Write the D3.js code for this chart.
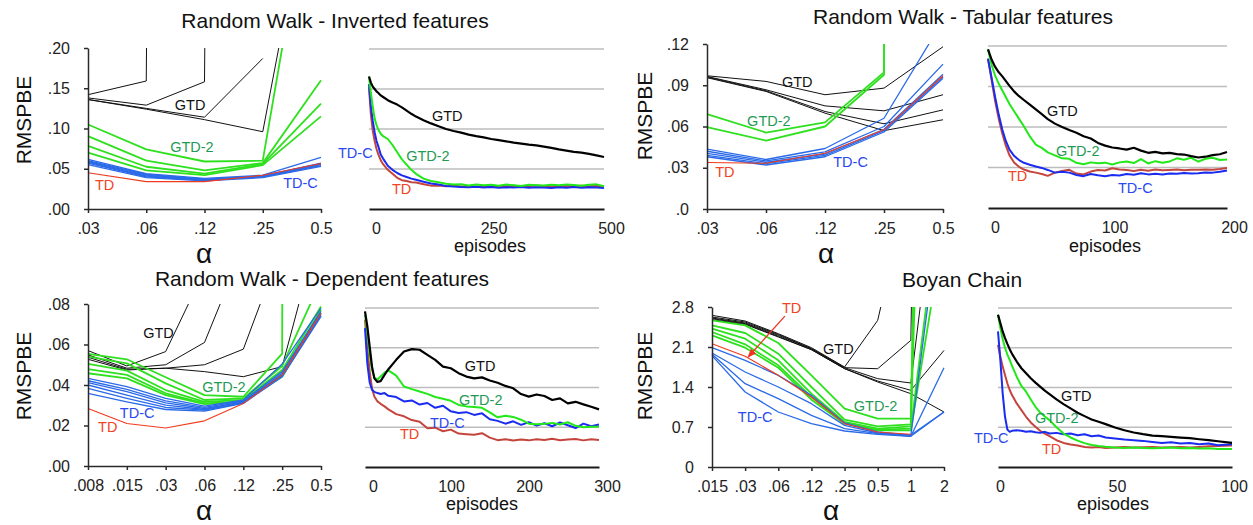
<!DOCTYPE html>
<html>
<head>
<meta charset="utf-8">
<script src="https://cdn.jsdelivr.net/npm/d3@7"></script>
<style>
  body { margin: 0; background: #fff; }
  svg { font-family: "Liberation Sans", Arial, sans-serif; }
  .axis path, .axis line { stroke: #2a2a2a; stroke-width: 1.5; }
  .axis text { font-size: 16px; fill: #222; }
  .epaxis path { stroke: #1a1a1a; stroke-width: 2; }
  .epaxis text { font-size: 16px; fill: #222; }
  .grid { stroke: #bdbdbd; stroke-width: 1.5; }
  .lbl { font-size: 14.5px; }
</style>
</head>
<body>
<svg id="chart"></svg>
<script>
// ---------- Random Walk - Inverted features ----------
const invAlpha = ['.03', '.06', '.12', '.25', '0.5'];
const invTicks = ['.00', '.05', '.10', '.15', '.20'];
const invGTD = [
  [0.142, 0.159, 9, null, null],
  [0.138, 0.129, 0.158, 9, null],
  [0.136, 0.125, 0.114, 0.187, null],
  [0.136, 0.124, 0.111, 0.096, 0.475]
];
const invGTD2 = [
  [0.105, 0.074, 0.059, 0.060, 0.48],
  [0.0905, 0.060, 0.048, 0.057, 0.160],
  [0.0785, 0.0525, 0.044, 0.056, 0.131],
  [0.070, 0.048, 0.042, 0.0545, 0.115]
];
const invTDC = [
  [0.0615, 0.044, 0.038, 0.042, 0.064],
  [0.060, 0.043, 0.037, 0.041, 0.057],
  [0.059, 0.042, 0.0365, 0.041, 0.056],
  [0.058, 0.041, 0.036, 0.040, 0.055],
  [0.057, 0.040, 0.0355, 0.040, 0.054],
  [0.055, 0.039, 0.035, 0.039, 0.053]
];
const invTD = [[0.045, 0.034, 0.034, 0.042, 0.0566]];

const invEpisodes = [0, 4, 8, 12, 16, 20, 25, 30, 40, 50, 60, 70, 80, 90, 100, 116, 132, 148, 164, 180,
  196, 212, 228, 244, 260, 276, 292, 308, 324, 340, 356, 372, 388, 404, 420, 436, 452, 468, 484, 500];
const invEpTicks = [0, 250, 500];
const invEpGTD = [0.1656, 0.158, 0.153, 0.150, 0.147, 0.145, 0.142, 0.140, 0.136, 0.133, 0.1305, 0.127, 0.123, 0.119, 0.1155,
  0.111, 0.107, 0.1035, 0.100, 0.0975, 0.0955, 0.093, 0.091, 0.0895, 0.0875, 0.086, 0.0845, 0.083, 0.0818, 0.0805,
  0.0795, 0.078, 0.0765, 0.0745, 0.073, 0.0715, 0.0705, 0.069, 0.067, 0.065];
const invEpGTD2 = [0.1656, 0.145, 0.128, 0.113, 0.105, 0.099, 0.094, 0.091, 0.0875, 0.080, 0.071, 0.062, 0.0555, 0.049, 0.044,
  0.038, 0.035, 0.0335, 0.0315, 0.0305, 0.031, 0.0295, 0.0305, 0.0298, 0.0302, 0.0292, 0.0305, 0.0296, 0.0288, 0.0302,
  0.0298, 0.0295, 0.0303, 0.0296, 0.0305, 0.0299, 0.0291, 0.0302, 0.0308, 0.0285];
const invEpTDC = [0.156, 0.128, 0.110, 0.096, 0.085, 0.078, 0.068, 0.063, 0.054, 0.049, 0.045, 0.042, 0.040, 0.038, 0.0365,
  0.034, 0.032, 0.0305, 0.0288, 0.0282, 0.0275, 0.0272, 0.0278, 0.0268, 0.0275, 0.0265, 0.0272, 0.0268, 0.0276, 0.0265,
  0.0271, 0.0268, 0.0262, 0.0272, 0.0266, 0.0274, 0.0265, 0.0271, 0.0268, 0.0262];
const invEpTD = [0.152, 0.118, 0.098, 0.085, 0.075, 0.068, 0.061, 0.056, 0.049, 0.044, 0.039, 0.036, 0.035, 0.0335, 0.033,
  0.031, 0.0292, 0.0295, 0.0285, 0.029, 0.0282, 0.0288, 0.0279, 0.0286, 0.0281, 0.0289, 0.0283, 0.029, 0.0282, 0.0287,
  0.0293, 0.0284, 0.0289, 0.0281, 0.0288, 0.0284, 0.0291, 0.0283, 0.0287, 0.0282];

// ---------- Random Walk - Tabular features ----------
const tabAlpha = ['.03', '.06', '.12', '.25', '0.5'];
const tabTicks = ['.0', '.03', '.06', '.09', '.12'];
const tabGTD = [
  [0.0969, 0.0928, 0.0831, 0.0879, 0.118],
  [0.0964, 0.0867, 0.075, 0.0714, 0.0831],
  [0.096, 0.086, 0.0709, 0.062, 0.0721],
  [0.0955, 0.0855, 0.0697, 0.057, 0.0649]
];
const tabGTD2 = [
  [0.069, 0.0556, 0.063, 0.0994, 9],
  [0.0595, 0.0498, 0.060, 0.0976, 9]
];
const tabTDC = [
  [0.0435, 0.036, 0.044, 0.066, 0.137],
  [0.042, 0.035, 0.0415, 0.060, 0.1054],
  [0.0405, 0.034, 0.040, 0.058, 0.098],
  [0.039, 0.033, 0.039, 0.057, 0.096],
  [0.038, 0.032, 0.038, 0.056, 0.095]
];
const tabTD = [[0.0338, 0.0333, 0.0406, 0.0576, 0.0969]];

const tabEpisodes = [0, 3, 6, 9, 12, 15, 18, 22, 26, 30, 35, 40, 45, 50, 56, 62, 68, 74, 80, 86,
  92, 98, 104, 110, 116, 122, 128, 134, 140, 146, 152, 158, 164, 170, 176, 182, 188, 194, 200];
const tabEpTicks = [0, 100, 200];
const tabEpGTD = [0.1175, 0.110, 0.1045, 0.1005, 0.0975, 0.094, 0.0905, 0.0862, 0.0828, 0.080, 0.0765, 0.073, 0.0695, 0.0658,
  0.0625, 0.060, 0.0578, 0.0558, 0.0532, 0.0515, 0.0482, 0.0462, 0.0448, 0.0441, 0.0432, 0.0446, 0.0425, 0.0409, 0.0416,
  0.0405, 0.0408, 0.0399, 0.0396, 0.0384, 0.0374, 0.0380, 0.0392, 0.0398, 0.0415];
const tabEpGTD2 = [0.1175, 0.106, 0.098, 0.092, 0.087, 0.082, 0.077, 0.0715, 0.066, 0.0605, 0.053, 0.047, 0.0445, 0.0412,
  0.039, 0.0368, 0.0364, 0.0335, 0.0324, 0.0338, 0.0331, 0.0336, 0.0322, 0.0338, 0.0344, 0.0333, 0.0362, 0.0330, 0.0347,
  0.0335, 0.0345, 0.0368, 0.0357, 0.0372, 0.0343, 0.0365, 0.0372, 0.0356, 0.0360];
const tabEpTDC = [0.1106, 0.0965, 0.082, 0.069, 0.058, 0.0495, 0.0432, 0.0385, 0.0355, 0.0335, 0.032, 0.0308, 0.0297, 0.0282,
  0.0262, 0.0268, 0.0262, 0.0245, 0.0236, 0.0252, 0.0242, 0.0236, 0.0245, 0.0240, 0.0252, 0.0246, 0.0258, 0.0249, 0.0254,
  0.0248, 0.0256, 0.0253, 0.0259, 0.0255, 0.0258, 0.0263, 0.0262, 0.0268, 0.0278];
const tabEpTD = [0.1106, 0.095, 0.079, 0.066, 0.055, 0.046, 0.039, 0.0335, 0.0305, 0.0285, 0.027, 0.0262, 0.0252, 0.0238,
  0.0262, 0.0274, 0.0283, 0.0255, 0.0248, 0.0270, 0.0282, 0.0278, 0.0295, 0.0286, 0.0282, 0.0274, 0.0284, 0.0276, 0.0285,
  0.0279, 0.0282, 0.0286, 0.0280, 0.0284, 0.0283, 0.0285, 0.0284, 0.0289, 0.0296];

// ---------- Random Walk - Dependent features ----------
const depAlpha = ['.008', '.015', '.03', '.06', '.12', '.25', '0.5'];
const depTicks = ['.00', '.02', '.04', '.06', '.08'];
const depGTD = [
  [0.057, 0.0494, 0.0565, 0.0966, null, null, null],
  [0.0549, 0.0483, 0.050, 0.061, 0.108, null, null],
  [0.0537, 0.0478, 0.0483, 0.050, 0.0577, 0.109, null],
  [0.0527, 0.0474, 0.0483, 0.0466, 0.0441, 0.0491, 0.121]
];
const depGTD2 = [
  [0.0554, 0.0527, 0.0438, 0.035, 0.0342, 0.0555, 9],
  [0.054, 0.0507, 0.0408, 0.0326, 0.0334, 0.0494, 0.0915],
  [0.0504, 0.0471, 0.0375, 0.0317, 0.0326, 0.0474, 0.0788],
  [0.0478, 0.045, 0.0359, 0.0309, 0.0317, 0.045, 0.0772],
  [0.0458, 0.0433, 0.035, 0.0306, 0.0317, 0.0441, 0.0755]
];
const depTDC = [
  [0.0433, 0.0392, 0.0334, 0.0296, 0.0326, 0.0504, 0.078],
  [0.0421, 0.0378, 0.0322, 0.0289, 0.0321, 0.0466, 0.0764],
  [0.0412, 0.0367, 0.0312, 0.0284, 0.0317, 0.0458, 0.0755],
  [0.040, 0.035, 0.0301, 0.0279, 0.0314, 0.045, 0.0747],
  [0.0383, 0.0334, 0.0289, 0.0276, 0.0312, 0.0445, 0.0742],
  [0.0359, 0.0317, 0.0279, 0.0271, 0.0309, 0.0441, 0.0739]
];
const depTD = [[0.0284, 0.021, 0.0188, 0.0223, 0.0309, 0.045, 0.0755]];

const depEpisodes = [0, 3, 6, 9, 12, 16, 20, 25, 30, 40, 50, 60, 70, 80, 90, 100, 110, 120, 130, 140,
  150, 160, 170, 180, 190, 200, 210, 220, 230, 240, 250, 260, 270, 280, 290, 300];
const depEpTicks = [0, 100, 200, 300];
const depEpGTD = [0.0783, 0.0707, 0.0606, 0.0505, 0.0446, 0.0428, 0.0432, 0.0463, 0.0492,
  0.0539, 0.0581, 0.0593, 0.059, 0.0564, 0.0539, 0.0505, 0.0497, 0.0472, 0.0455, 0.0446, 0.0451, 0.0435, 0.0424,
  0.0408, 0.0396, 0.0367, 0.0354, 0.0365, 0.0357, 0.0337, 0.0345, 0.032, 0.0328, 0.0315, 0.0303, 0.029];
const depEpGTD2 = [0.0765, 0.068, 0.057, 0.049, 0.045, 0.044, 0.0455, 0.0475, 0.0486,
  0.0460, 0.0405, 0.0392, 0.0380, 0.0368, 0.0352, 0.0343, 0.0333, 0.0312, 0.0305, 0.0302, 0.0298, 0.0275, 0.0250,
  0.0258, 0.0252, 0.0238, 0.0218, 0.0215, 0.0217, 0.0222, 0.0214, 0.0225, 0.0207, 0.0200, 0.0203, 0.0203];
const depEpTDC = [0.0699, 0.052, 0.0425, 0.0389, 0.0378, 0.0372, 0.0367, 0.0372, 0.0358,
  0.0352, 0.0330, 0.0335, 0.0314, 0.0322, 0.0298, 0.0308, 0.0280, 0.0272, 0.0276, 0.0262, 0.0270, 0.0240, 0.0232,
  0.0218, 0.0230, 0.0212, 0.0225, 0.0208, 0.0220, 0.0205, 0.0224, 0.0210, 0.0196, 0.0218, 0.0205, 0.0214];
const depEpTD = [0.0741, 0.060, 0.048, 0.0395, 0.0355, 0.0330, 0.0318, 0.0305, 0.0290,
  0.0266, 0.0255, 0.0236, 0.0228, 0.0195, 0.0198, 0.0180, 0.0188, 0.0168, 0.0165, 0.0162, 0.0170, 0.0148, 0.0135,
  0.0140, 0.0133, 0.0138, 0.0134, 0.0140, 0.0136, 0.0142, 0.0135, 0.0138, 0.0141, 0.0134, 0.0140, 0.0136];

// ---------- Boyan Chain ----------
const boyAlpha = ['.015', '.03', '.06', '.12', '.25', '0.5', '1', '2'];
const boyTicks = ['0', '0.7', '1.4', '2.1', '2.8'];
const boyGTD = [
  [2.654, 2.555, 2.333, 2.088, 1.75, 2.567, 5.1, null],
  [2.625, 2.537, 2.32, 2.07, 1.738, 1.72, 2.217, 40],
  [2.607, 2.52, 2.304, 2.07, 1.738, 1.546, 1.47, 6.2],
  [2.596, 2.508, 2.287, 2.053, 1.721, 1.505, 1.342, 2.04],
  [2.578, 2.497, 2.275, 2.053, 1.721, 1.487, 1.283, 0.9625]
];
const boyGTD2 = [
  [2.567, 2.479, 2.17, 1.604, 1.021, 0.846, 0.846, 30],
  [2.479, 2.345, 1.983, 1.4, 0.828, 0.712, 0.747, 30],
  [2.42, 2.246, 1.867, 1.283, 0.7875, 0.671, 0.712, 20],
  [2.363, 2.147, 1.779, 1.225, 0.77, 0.653, 0.671, 5.3],
  [2.304, 2.088, 1.738, 1.178, 0.758, 0.642, 0.642, 4.2]
];
const boyTDC = [
  [2.088, 1.867, 1.604, 1.254, 0.77, 0.6125, 0.554, 5.0],
  [1.995, 1.663, 1.4, 1.108, 0.729, 0.595, 0.537, 1.738],
  [1.972, 1.458, 1.196, 0.904, 0.671, 0.583, 0.56, 0.9625],
  [1.95, 1.3125, 0.9625, 0.758, 0.63, 0.572, 0.537, 0.9625]
];
const boyTD = [[2.158, 1.937, 1.604, 1.225, 0.758, 0.6125, 0.572, null]];

const boyEpisodes = [0, 1, 2, 3, 4, 5, 6, 8, 10, 12, 14, 16, 18, 20, 22, 25, 28, 31, 34, 37,
  40, 43, 46, 50, 54, 58, 62, 66, 70, 74, 78, 82, 86, 90, 94, 100];
const boyEpTicks = [0, 50, 100];
const boyEpGTD = [2.682, 2.535, 2.387, 2.269, 2.169, 2.075, 1.992, 1.857, 1.739, 1.651, 1.562, 1.486, 1.415, 1.344, 1.285,
  1.191, 1.108, 1.032, 0.955, 0.896, 0.837, 0.796, 0.755, 0.696, 0.648, 0.607, 0.578, 0.554, 0.542, 0.531, 0.519,
  0.507, 0.489, 0.472, 0.454, 0.424];
const boyEpGTD2 = [2.682, 2.45, 2.25, 2.10, 1.98, 1.886, 1.78, 1.59, 1.427, 1.326, 1.19, 1.06, 0.96, 0.89, 0.825,
  0.70, 0.589, 0.52, 0.465, 0.42, 0.388, 0.368, 0.355, 0.342, 0.336, 0.342, 0.336, 0.33, 0.336, 0.342, 0.33,
  0.336, 0.324, 0.33, 0.318, 0.318];
const boyEpTDC = [2.387, 1.886, 1.297, 0.884, 0.66, 0.619, 0.637, 0.648, 0.637, 0.619, 0.631, 0.613, 0.601, 0.619, 0.589,
  0.601, 0.578, 0.589, 0.56, 0.578, 0.542, 0.554, 0.519, 0.501, 0.483, 0.472, 0.46, 0.442, 0.424, 0.436, 0.413,
  0.424, 0.401, 0.413, 0.383, 0.401];
const boyEpTD = [2.152, 1.945, 1.768, 1.621, 1.474, 1.356, 1.267, 1.12, 1.002, 0.884, 0.784, 0.707, 0.637, 0.589, 0.542,
  0.472, 0.424, 0.395, 0.377, 0.354, 0.342, 0.354, 0.336, 0.342, 0.354, 0.342, 0.348, 0.354, 0.342, 0.348, 0.354,
  0.342, 0.354, 0.365, 0.371, 0.377];

const titles = ['Random Walk - Inverted features', 'Random Walk - Tabular features',
  'Random Walk - Dependent features', 'Boyan Chain'];

// ---------- styles ----------
const alphaStyle = {
  gtd: { color: '#111', width: 1 },
  gtd2: { color: '#2fe01f', width: 1.8 },
  tdc: { color: '#2a6ae8', width: 1.3 },
  td: { color: '#f03a1e', width: 1.1 }
};
const episodeStyle = {
  td: { color: '#c4453d', width: 2 },
  tdc: { color: '#1a2cf0', width: 2 },
  gtd2: { color: '#22e81a', width: 2 },
  gtd: { color: '#000', width: 2.2 }
};
const labelColor = { gtd: '#111', gtd2: '#1f9a55', tdc: '#2a48f0', td: '#f04424' };
const labelText = { gtd: 'GTD', gtd2: 'GTD-2', tdc: 'TD-C', td: 'TD' };

const svg = d3.select('#chart').attr('width', 1253).attr('height', 525);
const defs = svg.append('defs');
defs.append('marker').attr('id', 'arrow').attr('viewBox', '0 0 10 10')
  .attr('refX', 9).attr('refY', 5).attr('markerWidth', 7).attr('markerHeight', 7)
  .attr('orient', 'auto')
  .append('path').attr('d', 'M0,1 L10,5 L0,9 Z').attr('fill', '#ee3322');

const drawLabels = (g, labels, xPos, y) => {
  Object.entries(labels).forEach(([k, [lx, ly]]) => {
    g.append('text').attr('class', 'lbl')
      .attr('x', xPos(lx)).attr('y', y(ly))
      .attr('fill', labelColor[k])
      .text(labelText[k]);
  });
};

const drawAlphaPanel = (p) => {
  const { x0, x1, y0, y1 } = p.box;
  const x = d3.scalePoint().domain(p.cats).range([x0, x1]);
  const xi = d3.scaleLinear().domain([0, p.cats.length - 1]).range([x0, x1]);
  const y = d3.scaleLinear().domain([0, +p.ticks[p.ticks.length - 1]]).range([y0, y1]);
  const g = svg.append('g');

  defs.append('clipPath').attr('id', 'clip-' + p.id)
    .append('rect').attr('x', x0 - 4).attr('y', y1).attr('width', x1 - x0 + 8).attr('height', y0 - y1);

  const line = d3.line().defined(d => d != null).x((d, i) => xi(i)).y(d => y(d));
  const lines = g.append('g').attr('clip-path', `url(#clip-${p.id})`);
  ['gtd', 'gtd2', 'tdc', 'td'].forEach(k => {
    lines.selectAll(null).data(p.series[k]).enter().append('path')
      .attr('d', line)
      .attr('fill', 'none')
      .attr('stroke', alphaStyle[k].color)
      .attr('stroke-width', alphaStyle[k].width)
      .attr('stroke-linejoin', 'round');
  });

  g.append('g').attr('class', 'axis')
    .attr('transform', `translate(${x0},0)`)
    .call(d3.axisLeft(y).tickValues(p.ticks.map(Number))
      .tickFormat(d => p.ticks.find(t => +t === d))
      .tickSize(4).tickPadding(14).tickSizeOuter(0));
  g.append('g').attr('class', 'axis')
    .attr('transform', `translate(0,${y0})`)
    .call(d3.axisBottom(x).tickSize(4).tickPadding(10).tickSizeOuter(0));

  drawLabels(g, p.labels, xi, y);
  if (p.arrow) {
    const [[ax, ay], [bx, by]] = p.arrow;
    g.append('line')
      .attr('x1', xi(ax)).attr('y1', y(ay)).attr('x2', xi(bx)).attr('y2', y(by))
      .attr('stroke', '#ee3322').attr('stroke-width', 1.3)
      .attr('marker-end', 'url(#arrow)');
  }
};

const drawEpisodePanel = (p) => {
  const { x0, x1, y0, y1 } = p.box;
  const x = d3.scaleLinear().domain([0, p.xTicks[p.xTicks.length - 1]]).range([x0, x1]);
  const y = d3.scaleLinear().domain([0, +p.yTicks[p.yTicks.length - 1]]).range([y0, y1]);
  const g = svg.append('g');

  g.selectAll('.grid').data(p.yTicks.map(Number).filter(v => v > 0)).enter()
    .append('line').attr('class', 'grid')
    .attr('x1', x0).attr('x2', x1)
    .attr('y1', d => y(d)).attr('y2', d => y(d));

  const ax = g.append('g').attr('class', 'epaxis')
    .attr('transform', `translate(0,${y0})`)
    .call(d3.axisBottom(x).tickValues(p.xTicks).tickSize(0).tickPadding(14));
  ax.selectAll('.tick text').attr('dx', p.dx);

  const line = d3.line().x((d, i) => x(p.episodes[i])).y(d => y(d));
  ['td', 'tdc', 'gtd2', 'gtd'].forEach(k => {
    g.append('path').datum(p.series[k])
      .attr('d', line)
      .attr('fill', 'none')
      .attr('stroke', episodeStyle[k].color)
      .attr('stroke-width', episodeStyle[k].width)
      .attr('stroke-linejoin', 'round');
  });

  drawLabels(g, p.labels, x, y);
};

// ---------- panels ----------
drawAlphaPanel({
  id: 'inv', cats: invAlpha, ticks: invTicks,
  box: { x0: 88, x1: 321, y0: 209, y1: 48 },
  series: { gtd: invGTD, gtd2: invGTD2, tdc: invTDC, td: invTD },
  labels: { gtd: [1.49, 0.123], gtd2: [1.41, 0.0708], td: [0.12, 0.0236], tdc: [3.35, 0.026] }
});
drawEpisodePanel({
  episodes: invEpisodes, xTicks: invEpTicks, yTicks: invTicks, dx: 7,
  box: { x0: 369, x1: 604, y0: 209, y1: 49 },
  series: { gtd: invEpGTD, gtd2: invEpGTD2, tdc: invEpTDC, td: invEpTD },
  labels: { gtd: [134, 0.110], gtd2: [79, 0.060], tdc: [-66, 0.0638], td: [49, 0.0188] }
});
drawAlphaPanel({
  id: 'tab', cats: tabAlpha, ticks: tabTicks,
  box: { x0: 707, x1: 943, y0: 209, y1: 44 },
  series: { gtd: tabGTD, gtd2: tabGTD2, tdc: tabTDC, td: tabTD },
  labels: { gtd: [1.27, 0.0887], gtd2: [0.68, 0.0604], tdc: [2.14, 0.0305], td: [0.14, 0.0233] }
});
drawEpisodePanel({
  episodes: tabEpisodes, xTicks: tabEpTicks, yTicks: tabTicks, dx: 7,
  box: { x0: 988, x1: 1227, y0: 208, y1: 46 },
  series: { gtd: tabEpGTD, gtd2: tabEpGTD2, tdc: tabEpTDC, td: tabEpTD },
  labels: { gtd: [49.4, 0.0681], gtd2: [56.9, 0.0385], tdc: [108.8, 0.0111], td: [16.7, 0.020] }
});
drawAlphaPanel({
  id: 'dep', cats: depAlpha, ticks: depTicks,
  box: { x0: 88, x1: 321, y0: 466, y1: 304 },
  series: { gtd: depGTD, gtd2: depGTD2, tdc: depTDC, td: depTD },
  labels: { gtd: [1.42, 0.0632], gtd2: [2.94, 0.0365], tdc: [0.82, 0.0237], td: [0.26, 0.0168] }
});
drawEpisodePanel({
  episodes: depEpisodes, xTicks: depEpTicks, yTicks: depTicks, dx: 8,
  box: { x0: 365, x1: 599, y0: 467, y1: 308 },
  series: { gtd: depEpGTD, gtd2: depEpGTD2, tdc: depEpTDC, td: depEpTD },
  labels: { gtd: [128, 0.0483], gtd2: [120.5, 0.0312], tdc: [83.3, 0.0196], td: [44.9, 0.0141] }
});
drawAlphaPanel({
  id: 'boy', cats: boyAlpha, ticks: boyTicks,
  box: { x0: 712, x1: 944, y0: 467, y1: 307 },
  series: { gtd: boyGTD, gtd2: boyGTD2, tdc: boyTDC, td: boyTD },
  labels: { gtd: [3.35, 1.978], gtd2: [4.28, 0.98], tdc: [0.78, 0.7875], td: [2.11, 2.695] },
  arrow: [[2.2, 2.64], [1.09, 1.925]]
});
drawEpisodePanel({
  episodes: boyEpisodes, xTicks: boyEpTicks, yTicks: boyTicks, dx: 2,
  box: { x0: 998, x1: 1232, y0: 467, y1: 308 },
  series: { gtd: boyEpGTD, gtd2: boyEpGTD2, tdc: boyEpTDC, td: boyEpTD },
  labels: { gtd: [26.9, 1.162], gtd2: [15.8, 0.775], tdc: [-10.3, 0.423], td: [18.8, 0.229] }
});

// ---------- titles and axis names ----------
const texts = svg.append('g').attr('fill', '#111');
[[335, 28], [963, 24], [322, 286], [962, 287]].forEach(([tx, ty], i) => {
  texts.append('text').attr('x', tx).attr('y', ty).attr('text-anchor', 'middle')
    .attr('font-size', 21).text(titles[i]);
});
[[24, 120], [24, 376], [645, 116], [645, 376]].forEach(([tx, ty]) => {
  texts.append('text').attr('transform', `translate(${tx},${ty}) rotate(-90)`)
    .attr('text-anchor', 'middle').attr('dy', '0.35em')
    .attr('font-size', 21).text('RMSPBE');
});
[[204, 263], [826, 263], [204, 520], [831, 520]].forEach(([tx, ty]) => {
  texts.append('text').attr('x', tx).attr('y', ty).attr('text-anchor', 'middle')
    .attr('font-size', 28).text('α');
});
[[490, 252], [1105, 252], [482, 510], [1113, 510]].forEach(([tx, ty]) => {
  texts.append('text').attr('x', tx).attr('y', ty).attr('text-anchor', 'middle')
    .attr('font-size', 18).text('episodes');
});
</script>
</body>
</html>
